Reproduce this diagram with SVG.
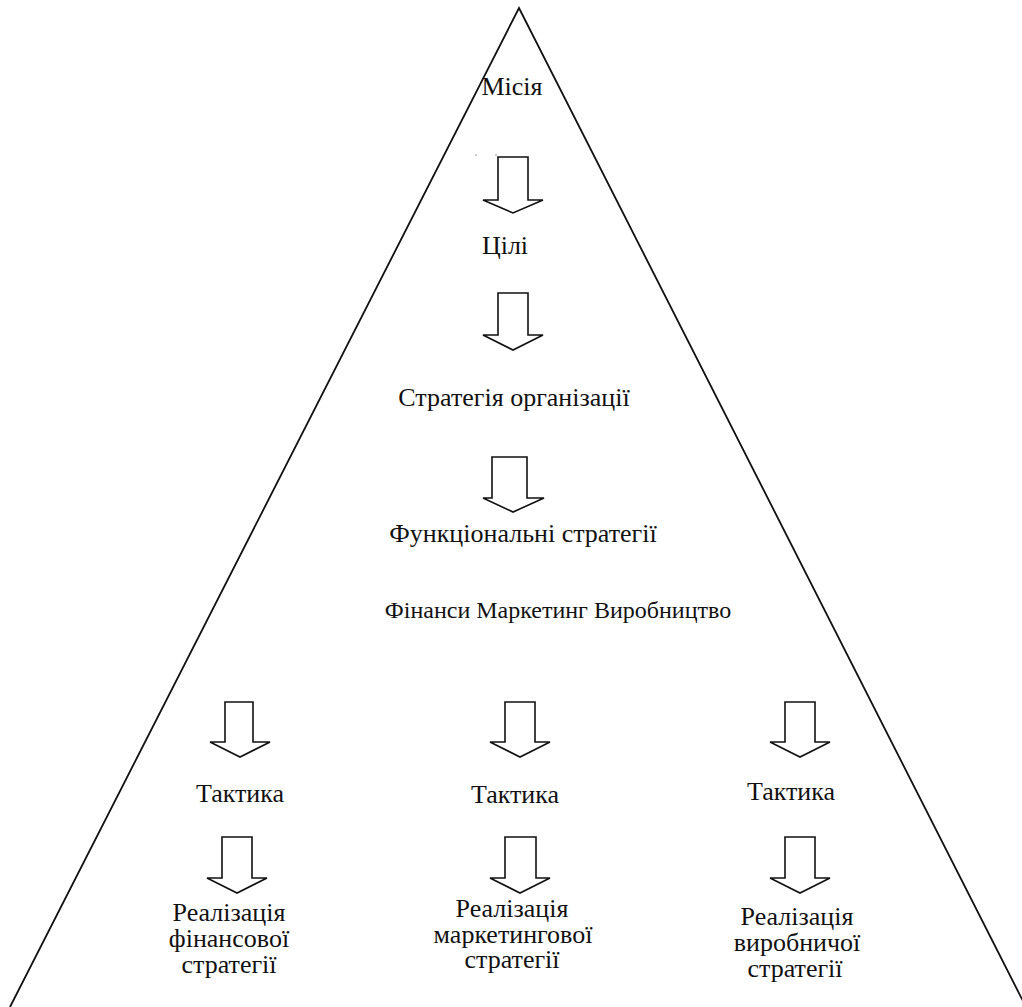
<svg xmlns="http://www.w3.org/2000/svg" width="1022" height="1007" viewBox="0 0 1022 1007">
<style>
text{font-family:'Liberation Serif','DejaVu Serif',serif;font-size:26px;fill:#111;text-anchor:middle}
.a{fill:#fff;stroke:#111;stroke-width:1.6;stroke-linejoin:miter}
.p{fill:none;stroke:#111;stroke-width:1.8}
</style>
<rect width="1022" height="1007" fill="#fff"/>
<g id="pyramid">
<polyline class="p" points="10,1007 519,8 1026,1007"/>
</g>
<g id="connectors">
<path class="a" d="M498,157 H528 V200 H543 L513,213 L483,200 H498 Z"/>
<path class="a" d="M498,293 H528 V335 H543 L513,350 L483,335 H498 Z"/>
<path class="a" d="M492,457 H527 V498 H544 L513,512 L483,498 H492 Z"/>
<path class="a" d="M225,702 H253 V742 H270 L240,757 L210,742 H225 Z"/>
<path class="a" d="M505,702 H535 V742 H550 L520,757 L490,742 H505 Z"/>
<path class="a" d="M785,702 H815 V742 H830 L800,757 L770,742 H785 Z"/>
<path class="a" d="M222,837 H252 V878 H267 L237,893 L207,878 H222 Z"/>
<path class="a" d="M505,837 H536 V878 H550 L520,893 L490,878 H505 Z"/>
<path class="a" d="M785,837 H815 V878 H830 L800,893 L770,878 H785 Z"/>
<line x1="475" y1="155" x2="477" y2="155" stroke="#999" stroke-width="1"/>
<line x1="495" y1="155" x2="497" y2="155" stroke="#999" stroke-width="1"/>
</g>
<g id="n-misia"><text x="512" y="95">Місія</text></g>
<g id="n-tsili"><text x="505" y="254">Цілі</text></g>
<g id="n-strat-org"><text x="514" y="406">Стратегія організації</text></g>
<g id="n-func"><text x="523" y="542">Функціональні стратегії</text></g>
<g id="n-areas"><text x="558" y="618" style="font-size:24px">Фінанси Маркетинг Виробництво</text></g>
<g id="n-takt1"><text x="240" y="802">Тактика</text></g>
<g id="n-takt2"><text x="515" y="803">Тактика</text></g>
<g id="n-takt3"><text x="791" y="800">Тактика</text></g>
<g id="n-real1"><text x="229" y="921">Реалізація</text><text x="229" y="947">фінансової</text><text x="229" y="973">стратегії</text></g>
<g id="n-real2"><text x="512" y="917">Реалізація</text><text x="513" y="943">маркетингової</text><text x="512" y="968">стратегії</text></g>
<g id="n-real3"><text x="797" y="925">Реалізація</text><text x="797" y="951">виробничої</text><text x="795" y="977">стратегії</text></g>
</svg>
